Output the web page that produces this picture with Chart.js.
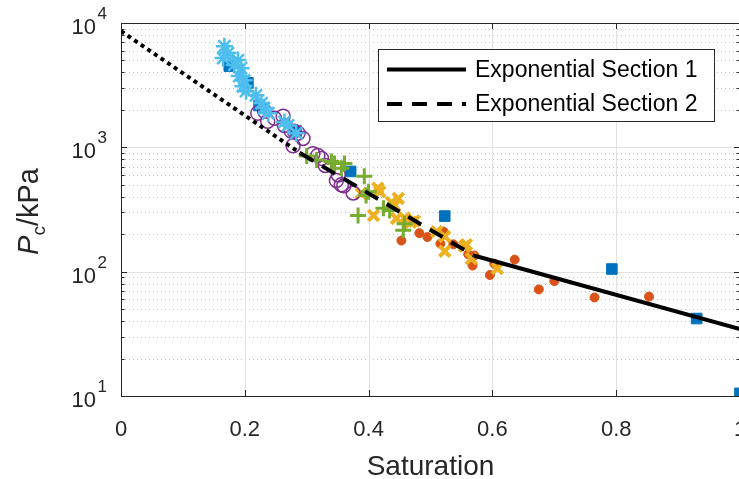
<!DOCTYPE html>
<html>
<head>
<meta charset="utf-8">
<script src="https://cdn.jsdelivr.net/npm/chart.js@4.4.1/dist/chart.umd.min.js"></script>
<style>
  body { margin: 0; overflow: hidden; background: #fff; }
  #wrap { width: 741px; height: 479px; }
</style>
</head>
<body>
<div id="wrap"><canvas id="PCCHART" width="741" height="479"></canvas></div>
<script>
// values (saturation, Pc in kPa)
const blueSat = [0.175, 0.205, 0.223, 0.283, 0.371, 0.523, 0.793, 0.93, 1.0];
const bluePc = [4500, 3300, 2170, 1350, 640, 280, 105, 42, 10.5];

const orangeSat = [0.453, 0.482, 0.495, 0.521, 0.516, 0.537, 0.561, 0.571, 0.568, 0.603, 0.596, 0.636, 0.675, 0.70, 0.765, 0.853];
const orangePc = [178, 204, 190, 210, 168, 166, 138, 135, 112, 116, 94, 125, 72, 84, 62, 63];

const yellowSat = [0.388, 0.415, 0.418, 0.408, 0.437, 0.445, 0.448, 0.442, 0.458, 0.468, 0.474, 0.51, 0.523, 0.523, 0.555, 0.558, 0.566, 0.608];
const yellowPc = [425, 470, 440, 283, 360, 268, 388, 340, 270, 250, 256, 210, 192, 146, 160, 165, 127, 106];

const purpleSat = [0.221, 0.232, 0.237, 0.248, 0.262, 0.264, 0.275, 0.28, 0.286, 0.294, 0.278, 0.31, 0.318, 0.324, 0.33, 0.348, 0.351, 0.356, 0.36, 0.375];
const purplePc = [1880, 1950, 1620, 1715, 1780, 1500, 1350, 1350, 1300, 1180, 1030, 890, 860, 815, 715, 540, 600, 500, 490, 430];

const greenSat = [0.30, 0.316, 0.34, 0.345, 0.356, 0.361, 0.393, 0.396, 0.40, 0.383, 0.424, 0.434, 0.456, 0.458];
const greenPc = [850, 790, 770, 740, 680, 740, 585, 410, 440, 283, 323, 310, 215, 243];

const cyanSat = [0.167, 0.173, 0.165, 0.189, 0.183, 0.194, 0.191, 0.199, 0.197, 0.202, 0.218, 0.227, 0.231, 0.238, 0.264, 0.27, 0.283];
const cyanPc = [6500, 5730, 5220, 5030, 4600, 4330, 3740, 3460, 3100, 2830, 2620, 2270, 2070, 1880, 1600, 1500, 1300];

// fitted exponential sections (straight on a log axis), end points
const fitDottedSat = [0, 0.29];
const fitDottedPc = [8600, 895];
const fitDashedSat = [0.29, 0.57];
const fitDashedPc = [895, 135];
const fitSolidSat = [0.57, 1.0];
const fitSolidPc = [135, 34.5];

const xTicks = [0, 0.2, 0.4, 0.6, 0.8, 1];
const xTickLabels = ['0', '0.2', '0.4', '0.6', '0.8', '1'];
const yTickExps = [1, 2, 3, 4];
const legendLabels = ['Exponential Section 1', 'Exponential Section 2'];

const FONT = '"Liberation Sans", Arial, Helvetica, sans-serif';
const AXIS = '#262626';

function pts(xs, ys) {
  return xs.map((x, i) => ({ x: x, y: ys[i] }));
}

function seg(ctx, x1, y1, x2, y2) {
  ctx.beginPath();
  ctx.moveTo(x1, y1);
  ctx.lineTo(x2, y2);
  ctx.stroke();
}

// matlab-ish axes: dotted minor grid, boxed axes with inward ticks, 10^n labels
const matlabAxes = {
  id: 'matlabAxes',
  beforeDatasetsDraw(chart) {
    const { ctx, chartArea: a, scales: { x, y } } = chart;
    ctx.save();
    ctx.lineWidth = 1;

    ctx.strokeStyle = '#c4c4c4';
    ctx.setLineDash([1, 3]);
    for (const e of yTickExps.slice(0, -1)) {
      for (let k = 2; k <= 9; k++) {
        const py = Math.round(y.getPixelForValue(k * Math.pow(10, e))) + 0.5;
        seg(ctx, a.left, py, a.right, py);
      }
    }
    ctx.setLineDash([]);

    ctx.strokeStyle = '#e2e2e2';
    for (const e of yTickExps) {
      const py = Math.round(y.getPixelForValue(Math.pow(10, e))) + 0.5;
      seg(ctx, a.left, py, a.right, py);
    }
    for (const t of xTicks) {
      const px = Math.round(x.getPixelForValue(t)) + 0.5;
      seg(ctx, px, a.top, px, a.bottom);
    }

    // box
    ctx.strokeStyle = AXIS;
    ctx.strokeRect(a.left + 0.5, a.top + 0.5, a.right - a.left, a.bottom - a.top);

    // ticks
    for (const t of xTicks) {
      const px = Math.round(x.getPixelForValue(t)) + 0.5;
      seg(ctx, px, a.bottom, px, a.bottom - 6);
      seg(ctx, px, a.top, px, a.top + 6);
    }
    for (const e of yTickExps) {
      const py = Math.round(y.getPixelForValue(Math.pow(10, e))) + 0.5;
      seg(ctx, a.left, py, a.left + 6, py);
      seg(ctx, a.right, py, a.right - 6, py);
      if (e === yTickExps[yTickExps.length - 1]) continue;
      for (let k = 2; k <= 9; k++) {
        const pm = Math.round(y.getPixelForValue(k * Math.pow(10, e))) + 0.5;
        seg(ctx, a.left, pm, a.left + 3.5, pm);
        seg(ctx, a.right, pm, a.right - 3.5, pm);
      }
    }
    ctx.restore();
  },
  afterDraw(chart) {
    const { ctx, chartArea: a, scales: { x, y } } = chart;
    ctx.save();
    ctx.fillStyle = AXIS;

    // x tick labels
    ctx.font = '22px ' + FONT;
    ctx.textAlign = 'center';
    ctx.textBaseline = 'alphabetic';
    xTicks.forEach((t, i) => {
      ctx.fillText(xTickLabels[i], x.getPixelForValue(t), a.bottom + 40);
    });

    // y tick labels 10^n
    yTickExps.forEach(e => {
      const py = y.getPixelForValue(Math.pow(10, e));
      ctx.font = '22px ' + FONT;
      ctx.textAlign = 'right';
      ctx.fillText('10', 96, py + 11);
      ctx.font = '17px ' + FONT;
      ctx.textAlign = 'left';
      ctx.fillText(String(e), 97.5, py - 4);
    });

    // x title
    ctx.font = '28px ' + FONT;
    ctx.textAlign = 'center';
    ctx.fillText('Saturation', (a.left + a.right) / 2, 475);

    // y title P_c/kPa
    ctx.save();
    ctx.translate(38, (a.top + a.bottom) / 2 + 2);
    ctx.rotate(-Math.PI / 2);
    ctx.textAlign = 'left';
    const fP = 'italic 29px ' + FONT, fS = '19px ' + FONT, fN = '29px ' + FONT;
    ctx.font = fP; const wP = ctx.measureText('P').width;
    ctx.font = fS; const wS = ctx.measureText('c').width;
    ctx.font = fN; const wN = ctx.measureText('/kPa').width;
    let cx = -(wP + wS + wN) / 2;
    ctx.font = fP; ctx.fillText('P', cx, 0); cx += wP;
    ctx.font = fS; ctx.fillText('c', cx, 7); cx += wS;
    ctx.font = fN; ctx.fillText('/kPa', cx, 0);
    ctx.restore();

    // legend box inside the axes
    const lx = 378.5, ly = 49.5, lw = 336, lh = 72;
    ctx.fillStyle = '#fff';
    ctx.fillRect(lx, ly, lw, lh);
    ctx.strokeStyle = AXIS;
    ctx.lineWidth = 1;
    ctx.strokeRect(lx, ly, lw, lh);
    const rows = [69.5, 104];
    [0, 1].forEach(i => {
      const ds = chart.data.datasets[i];
      ctx.strokeStyle = ds.borderColor;
      ctx.lineWidth = ds.borderWidth;
      ctx.setLineDash(ds.borderDash || []);
      seg(ctx, 387, rows[i], 466, rows[i]);
      ctx.setLineDash([]);
      ctx.fillStyle = '#000';
      ctx.font = '23px ' + FONT;
      ctx.textAlign = 'left';
      ctx.textBaseline = 'middle';
      ctx.fillText(legendLabels[i], 475, rows[i] + 1);
    });
    ctx.restore();
  }
};

const ctx = document.getElementById('PCCHART');

const pc_chart = new Chart(ctx, {
  type: 'scatter',
  data: {
    datasets: [
      {
        label: legendLabels[0],
        type: 'line',
        data: pts(fitSolidSat, fitSolidPc),
        borderColor: '#000000',
        borderWidth: 4,
        pointRadius: 0,
        tension: 0,
        fill: false
      },
      {
        label: legendLabels[1],
        type: 'line',
        data: pts(fitDashedSat, fitDashedPc),
        borderColor: '#000000',
        borderWidth: 4,
        borderDash: [15, 10],
        pointRadius: 0,
        tension: 0,
        fill: false
      },
      {
        label: 'extrapolation',
        type: 'line',
        data: pts(fitDottedSat, fitDottedPc),
        borderColor: '#000000',
        borderWidth: 4,
        borderDash: [4, 4],
        pointRadius: 0,
        tension: 0,
        fill: false
      },
      {
        label: 'cyan',
        data: pts(cyanSat, cyanPc),
        pointStyle: 'star',
        pointRadius: 8.5,
        borderWidth: 2.5,
        borderColor: '#4DBEEE',
        backgroundColor: '#4DBEEE'
      },
      {
        label: 'green',
        data: pts(greenSat, greenPc),
        pointStyle: 'cross',
        pointRadius: 8,
        borderWidth: 3,
        borderColor: '#77AC30',
        backgroundColor: '#77AC30'
      },
      {
        label: 'purple',
        data: pts(purpleSat, purplePc),
        pointStyle: 'circle',
        pointRadius: 7,
        borderWidth: 1.5,
        borderColor: '#7E2F8E',
        backgroundColor: 'rgba(0,0,0,0)'
      },
      {
        label: 'yellow',
        data: pts(yellowSat, yellowPc),
        pointStyle: 'crossRot',
        pointRadius: 7.5,
        borderWidth: 4,
        borderColor: '#EDB120',
        backgroundColor: '#EDB120'
      },
      {
        label: 'orange',
        data: pts(orangeSat, orangePc),
        pointStyle: 'circle',
        pointRadius: 4.5,
        borderWidth: 1,
        borderColor: '#D95319',
        backgroundColor: '#D95319'
      },
      {
        label: 'blue',
        data: pts(blueSat, bluePc),
        pointStyle: 'rect',
        pointRadius: 7.5,
        borderWidth: 1,
        borderColor: '#0072BD',
        backgroundColor: '#0072BD'
      }
    ]
  },
  options: {
    responsive: false,
    animation: false,
    events: [],
    layout: { autoPadding: false, padding: { top: 23, right: 1, left: 0, bottom: 0 } },
    plugins: {
      legend: { display: false },
      tooltip: { enabled: false }
    },
    scales: {
      x: {
        type: 'linear',
        min: 0,
        max: 1,
        grid: { display: false },
        border: { display: false },
        ticks: { display: false },
        afterFit: s => { s.height = 83; }
      },
      y: {
        type: 'logarithmic',
        min: 10,
        max: 10000,
        grid: { display: false },
        border: { display: false },
        ticks: { display: false },
        afterFit: s => { s.width = 121; }
      }
    }
  },
  plugins: [matlabAxes]
});
</script>
</body>
</html>
